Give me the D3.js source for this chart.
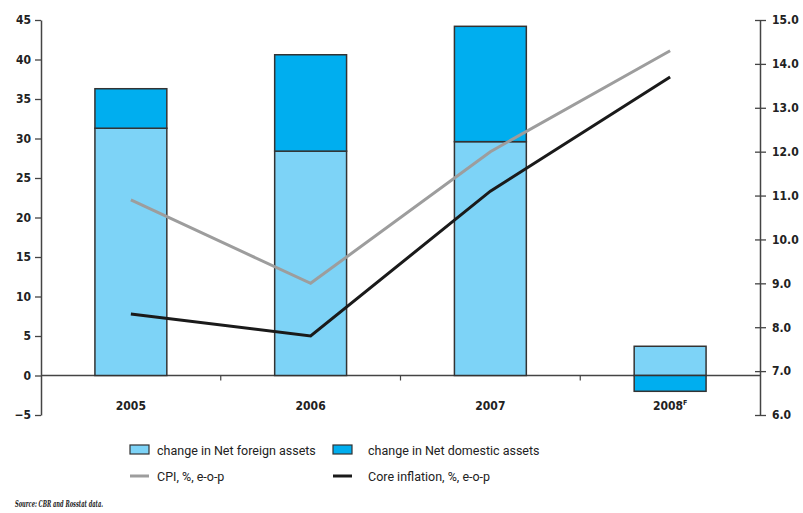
<!doctype html>
<html>
<head>
<meta charset="UTF-8" />
<script src="https://d3js.org/d3.v7.min.js"></script>
<style>
  body { margin: 0; background: #fff; }
  svg { display: block; }
  .tick text { font-family: "DejaVu Sans Condensed", "DejaVu Sans", sans-serif; font-weight: bold; font-size: 12px; fill: #222; }
  .legend text { font-family: Roboto, "Noto Sans", sans-serif; font-size: 12.5px; fill: #222; }
</style>
</head>
<body>
<svg id="chart" width="803" height="513"></svg>
<script>
  const years = ["2005", "2006", "2007", "2008"];
  const yearLabels = ["2005", "2006", "2007", "2008F"];
  const foreignAssets = [31.3, 28.4, 29.6, 3.7];
  const domesticAssets = [5.0, 12.2, 14.6, -2.0];
  const cpi = [10.9, 9.0, 12.0, 14.3];
  const coreInflation = [8.3, 7.8, 11.1, 13.7];
  const leftTicks = [-5, 0, 5, 10, 15, 20, 25, 30, 35, 40, 45];
  const rightTicks = [6, 7, 8, 9, 10, 11, 12, 13, 14, 15];

  (function() {
  const svg = d3.select("#chart");
  const pLeft = 41, pRight = 760, pTop = 20, pBottom = 415;

  const x = d3.scaleBand().domain(years).range([pLeft, pRight]).paddingInner(0.6).paddingOuter(0.3);
  const y = d3.scaleLinear().domain([-5, 45]).range([pBottom, pTop]);
  const y2 = d3.scaleLinear().domain([6, 15]).range([pBottom, pTop]);

  // zero line with category ticks
  svg.append("line").attr("x1", pLeft).attr("x2", pRight).attr("y1", y(0)).attr("y2", y(0))
    .attr("stroke", "#444").attr("stroke-width", 1.5);
  const step = (pRight - pLeft) / years.length;
  svg.append("g").selectAll("line").data(d3.range(1, years.length)).enter().append("line")
    .attr("x1", function(i) { return pLeft + i * step; })
    .attr("x2", function(i) { return pLeft + i * step; })
    .attr("y1", y(0)).attr("y2", y(0) + 5)
    .attr("stroke", "#444").attr("stroke-width", 1.2);

  // bars
  const stacks = years.map(function(yr, i) {
    const f = foreignAssets[i], d = domesticAssets[i];
    let segs = [];
    segs.push({ yr: yr, y0: 0, y1: f, c: "#7dd3f7" });
    if (d >= 0) segs.push({ yr: yr, y0: f, y1: f + d, c: "#00aeef" });
    else segs.push({ yr: yr, y0: d, y1: 0, c: "#00aeef" });
    return segs;
  }).flat();

  svg.append("g").selectAll("rect").data(stacks).enter().append("rect")
    .attr("x", function(d) { return x(d.yr); })
    .attr("width", x.bandwidth())
    .attr("y", function(d) { return y(d.y1); })
    .attr("height", function(d) { return y(d.y0) - y(d.y1); })
    .attr("fill", function(d) { return d.c; })
    .attr("stroke", "#333")
    .attr("stroke-width", 1.5);

  // x labels
  svg.append("g").selectAll("text").data(years).enter().append("text")
    .attr("x", function(d) { return x(d) + x.bandwidth() / 2; })
    .attr("y", 410)
    .attr("text-anchor", "middle")
    .style("font-family", "'DejaVu Sans Condensed', 'DejaVu Sans', sans-serif")
    .style("font-weight", "bold").style("font-size", "12px").style("fill", "#222")
    .each(function(d, i) {
      const t = d3.select(this);
      const lab = yearLabels[i];
      if (lab.length > 4) {
        t.append("tspan").text(lab.slice(0, 4));
        t.append("tspan").attr("dy", -5).style("font-size", "7px").text(lab.slice(4));
      } else t.text(lab);
    });

  // lines
  const line = function(vals) {
    return d3.line()
      .x(function(d, i) { return x(years[i]) + x.bandwidth() / 2; })
      .y(function(d) { return y2(d); })(vals);
  };
  svg.append("path").attr("d", line(cpi)).attr("fill", "none").attr("stroke", "#9d9d9d").attr("stroke-width", 3);
  svg.append("path").attr("d", line(coreInflation)).attr("fill", "none").attr("stroke", "#1a1a1a").attr("stroke-width", 3);

  // axes
  const ax = svg.append("g").attr("transform", "translate(" + pLeft + ",0)")
    .call(d3.axisLeft(y).tickValues(leftTicks).tickSize(6).tickPadding(4).tickSizeOuter(0));
  const ax2 = svg.append("g").attr("transform", "translate(" + pRight + ",0)")
    .call(d3.axisRight(y2).tickValues(rightTicks).tickFormat(d3.format(".1f")).tickSize(6).tickPadding(6).tickSizeOuter(0));
  ax2.selectAll(".tick line").attr("x1", -5);
  [ax, ax2].forEach(function(a) {
    a.select(".domain").attr("stroke", "#444").attr("stroke-width", 1.5);
    a.selectAll(".tick line").attr("stroke", "#444").attr("stroke-width", 1.3);
  });

  // legend
  const lg = svg.append("g").attr("class", "legend");
  const items = [
    { t: "change in Net foreign assets", kind: "rect", c: "#7dd3f7", x: 130, y: 450 },
    { t: "change in Net domestic assets", kind: "rect", c: "#00aeef", x: 333, y: 450 },
    { t: "CPI, %, e-o-p", kind: "line", c: "#9d9d9d", x: 130, y: 476 },
    { t: "Core inflation, %, e-o-p", kind: "line", c: "#1a1a1a", x: 333, y: 476 }
  ];
  items.forEach(function(it) {
    if (it.kind === "rect") {
      lg.append("rect").attr("x", it.x).attr("y", it.y - 5).attr("width", 19).attr("height", 9)
        .attr("fill", it.c).attr("stroke", "#333").attr("stroke-width", 1.2);
    } else {
      lg.append("line").attr("x1", it.x).attr("x2", it.x + 19).attr("y1", it.y).attr("y2", it.y)
        .attr("stroke", it.c).attr("stroke-width", 3);
    }
    lg.append("text").attr("x", it.x + (it.x > 200 ? 35 : 27)).attr("y", it.y + 4.5).text(it.t);
  });

  svg.append("text").attr("x", 15).attr("y", 507)
    .attr("textLength", 88).attr("lengthAdjust", "spacingAndGlyphs")
    .style("font-family", "'DejaVu Serif', serif").style("font-weight", "bold").style("font-style", "italic")
    .style("font-size", "9px").style("fill", "#222")
    .text("Source: CBR and Rosstat data.");
  })();
</script>
</body>
</html>
